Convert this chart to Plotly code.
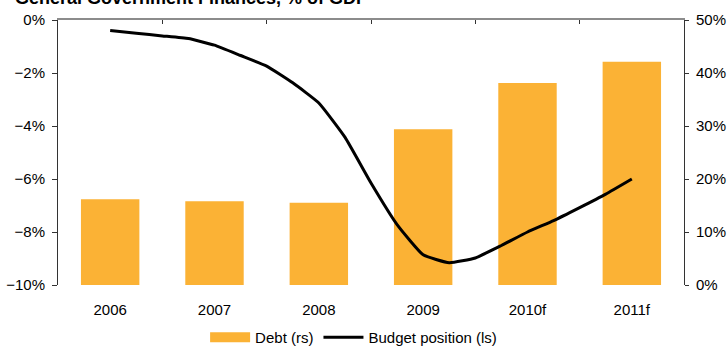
import plotly.graph_objects as go

# Annual categories and government debt (right scale, % of GDP)
years = ["2006", "2007", "2008", "2009", "2010f", "2011f"]
debt = [16.2, 15.8, 15.5, 29.4, 38.1, 42.1]

# Quarterly budget balance (left scale, % of GDP), 2006 through 2011f
budget_position = [-0.40, -0.50, -0.60, -0.70, -0.95, -1.34, -1.74, -2.37, -3.13,
                   -4.42, -6.15, -7.72, -8.86, -9.16, -8.98, -8.51, -8.00, -7.57,
                   -7.08, -6.57, -6.00]
budget_pos = [i / 4 for i in range(len(budget_position))]

ORANGE = "#FBB235"
FONT = "Liberation Sans, Arial, sans-serif"

fig = go.Figure()

fig.add_trace(go.Bar(
    x=list(range(len(years))), y=debt, xaxis="x", yaxis="y2",
    marker=dict(color=ORANGE, line=dict(width=0)), width=0.56,
    showlegend=False, name="Debt (rs)",
))

# legend entry for the bars, drawn as a thick swatch
fig.add_trace(go.Scatter(
    x=[None], y=[None], xaxis="x", yaxis="y", mode="lines",
    line=dict(color=ORANGE, width=11), name="Debt (rs)",
))

fig.add_trace(go.Scatter(
    x=budget_pos, y=budget_position, xaxis="x2", yaxis="y", mode="lines",
    line=dict(color="black", width=3, shape="spline", smoothing=0.4),
    name="Budget position (ls)",
))

fig.update_layout(
    width=727, height=347,
    margin=dict(l=58, r=43, t=20, b=62, autoexpand=False),
    paper_bgcolor="white", plot_bgcolor="white",
    font=dict(family=FONT, size=15, color="black"),
    xaxis=dict(
        range=[-0.5, 5.5], tickvals=list(range(len(years))), ticktext=years,
        showline=False, showgrid=False, zeroline=False, ticks="",
        ticklabelstandoff=14,
    ),
    xaxis2=dict(
        overlaying="x", side="top", range=[-0.5, 5.5],
        tickvals=[0.5, 1.5, 2.5, 3.5, 4.5], showticklabels=False,
        ticks="inside", ticklen=4, tickcolor="#333333",
        showline=True, linecolor="#8c8c8c", linewidth=1.5,
        showgrid=False, zeroline=False,
    ),
    yaxis=dict(
        range=[-10, 0], dtick=2, ticksuffix="%",
        showline=True, linecolor="#333333", linewidth=1,
        ticks="outside", ticklen=5, tickcolor="#333333",
        showgrid=False, zeroline=False, ticklabelstandoff=4,
    ),
    yaxis2=dict(
        overlaying="y", side="right", range=[0, 50], dtick=10, ticksuffix="%",
        showline=True, linecolor="#333333", linewidth=1,
        ticks="outside", ticklen=4, tickcolor="#333333",
        showgrid=False, zeroline=False, ticklabelstandoff=4,
    ),
    legend=dict(
        orientation="h", x=0.235, xanchor="left",
        yref="container", y=0.075, yanchor="top",
        font=dict(family=FONT, size=15), itemwidth=40, tracegroupgap=0,
        bgcolor="rgba(0,0,0,0)",
    ),
    bargap=0.44,
    annotations=[dict(
        text="<b>General Government Finances, % of GDP</b>",
        xref="paper", yref="paper", x=-0.072, y=1.038,
        xanchor="left", yanchor="bottom", showarrow=False,
        font=dict(family=FONT, size=18, color="black"),
    )],
)

fig.write_html("out.html")
